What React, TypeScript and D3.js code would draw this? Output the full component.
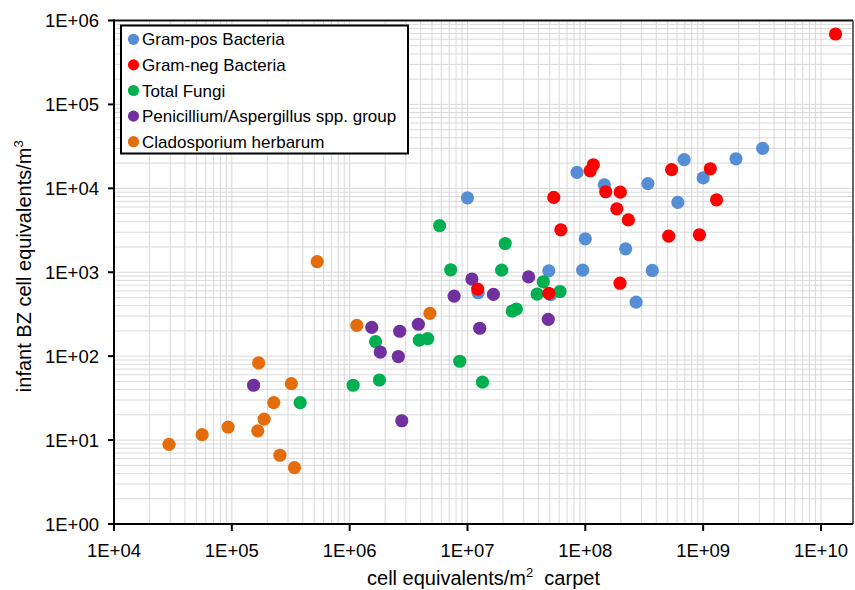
import React from "react";
import * as d3 from "d3";

// Carpet loading (cells/m² carpet) vs infant breathing-zone concentration (cells/m³)
const gramPosX = [1.0e7, 8.5e7, 1.45e8, 3.4e8, 6.9e8, 1.0e9, 1.9e9, 3.2e9, 6.1e8, 1.0e8, 2.2e8, 4.9e7, 9.5e7, 3.7e8, 2.7e8, 1.23e7, 5.1e7];
const gramPosY = [7.7e3, 1.55e4, 1.1e4, 1.14e4, 2.2e4, 1.33e4, 2.25e4, 3.0e4, 6.8e3, 2.5e3, 1.9e3, 1.04e3, 1.06e3, 1.05e3, 440, 570, 540];

const gramNegX = [1.33e10, 1.17e8, 1.1e8, 5.4e7, 1.49e8, 1.98e8, 1.85e8, 2.32e8, 6.2e7, 5.4e8, 1.15e9, 1.3e9, 5.1e8, 9.3e8, 1.97e8, 1.22e7, 4.9e7];
const gramNegY = [6.9e5, 1.91e4, 1.62e4, 7.8e3, 9.1e3, 9.0e3, 5.7e3, 4.2e3, 3.2e3, 1.67e4, 1.71e4, 7.3e3, 2.7e3, 2.8e3, 740, 630, 560];

const fungiX = [5.8e6, 2.09e7, 7.2e6, 1.95e7, 4.4e7, 3.9e7, 6.1e7, 2.4e7, 2.6e7, 1.66e6, 3.9e6, 4.6e6, 8.6e6, 1.79e6, 1.07e6, 1.34e7, 3.8e5];
const fungiY = [3.6e3, 2.2e3, 1.07e3, 1.06e3, 770, 550, 590, 345, 365, 149, 155, 162, 87, 52, 45, 49, 28];

const peniX = [1.09e7, 7.7e6, 1.66e7, 3.3e7, 4.85e7, 1.27e7, 1.54e6, 2.66e6, 3.83e6, 1.82e6, 2.59e6, 1.53e5, 2.77e6];
const peniY = [830, 520, 545, 880, 275, 215, 220, 198, 240, 112, 99, 45, 17];

const cladoX = [5.3e5, 1.69e5, 3.2e5, 2.27e5, 1.88e5, 9.3e4, 5.6e4, 1.66e5, 2.93e4, 2.56e5, 3.4e5, 1.15e6, 4.8e6];
const cladoY = [1340, 83, 47, 28, 17.8, 14.3, 11.6, 12.9, 8.9, 6.6, 4.7, 233, 324];

const seriesNames = [
  "Gram-pos Bacteria",
  "Gram-neg Bacteria",
  "Total Fungi",
  "Penicillium/Aspergillus spp. group",
  "Cladosporium herbarum",
];
const seriesColors = ["#558ED5", "#FF0000", "#00B050", "#7030A0", "#E46C0A"];
const seriesX = [gramPosX, gramNegX, fungiX, peniX, cladoX];
const seriesY = [gramPosY, gramNegY, fungiY, peniY, cladoY];
// paint order: red bacteria end up on top
const paintOrder = [0, 2, 3, 4, 1];

const xTickLabels = ["1E+04", "1E+05", "1E+06", "1E+07", "1E+08", "1E+09", "1E+10"];
const yTickLabels = ["1E+00", "1E+01", "1E+02", "1E+03", "1E+04", "1E+05", "1E+06"];

const FONT = "'Liberation Sans', Arial, Helvetica, sans-serif";

export default function App() {
  const W = 855;
  const H = 590;
  const left = 114;
  const right = 853;
  const top = 20.5;
  const bottom = 524;

  const x = d3.scaleLog().domain([1e4, 1.87e10]).range([left, right]);
  const y = d3.scaleLog().domain([1, 1e6]).range([bottom, top]);

  const xMajor = xTickLabels.map((_, i) => Math.pow(10, 4 + i));
  const yMajor = yTickLabels.map((_, i) => Math.pow(10, i));

  const xGrid: number[] = [];
  for (let e = 4; e <= 10; e++) {
    for (let k = 1; k <= 9; k++) {
      const v = k * Math.pow(10, e);
      if (v <= x.domain()[1]) xGrid.push(v);
    }
  }
  const yGrid: number[] = [];
  for (let e = 0; e <= 5; e++) {
    for (let k = 1; k <= 9; k++) yGrid.push(k * Math.pow(10, e));
  }
  yGrid.push(1e6);

  const legendRowY = (i: number) => 39.3 + i * 25.6;

  return (
    <svg
      width={W}
      height={H}
      viewBox={`0 0 ${W} ${H}`}
      style={{ position: "absolute", left: 0, top: 0, background: "#fff" }}
      fontFamily={FONT}
    >
      <rect x={0} y={0} width={W} height={H} fill="#fff" />

      {/* gridlines */}
      <g stroke="#d9d9d9" strokeWidth={1}>
        {xGrid.map((v, i) => (
          <line key={"gx" + i} x1={x(v)} x2={x(v)} y1={top} y2={bottom} />
        ))}
        {yGrid.map((v, i) => (
          <line key={"gy" + i} x1={left} x2={right} y1={y(v)} y2={y(v)} />
        ))}
      </g>

      {/* plot frame */}
      <line x1={left} x2={right} y1={top} y2={top} stroke="#111" strokeWidth={2} />
      <line x1={right} x2={right} y1={top} y2={bottom} stroke="#333" strokeWidth={1.5} />

      {/* markers */}
      {paintOrder.map((s) => (
        <g key={"s" + s} fill={seriesColors[s]}>
          {seriesX[s].map((xv, i) => (
            <circle key={i} cx={x(xv)} cy={y(seriesY[s][i])} r={6.6} />
          ))}
        </g>
      ))}

      {/* axes */}
      <g stroke="#000" strokeWidth={2}>
        <line x1={left} x2={left} y1={top - 1} y2={bottom + 6} />
        <line x1={left - 6} x2={right} y1={bottom} y2={bottom} />
        {yMajor.map((v, i) => (
          <line key={"yt" + i} x1={left - 6} x2={left} y1={y(v)} y2={y(v)} />
        ))}
        {xMajor.map((v, i) => (
          <line key={"xt" + i} x1={x(v)} x2={x(v)} y1={bottom} y2={bottom + 7} />
        ))}
      </g>

      {/* tick labels */}
      <g fontSize={18.5} fill="#000">
        {yMajor.map((v, i) => (
          <text key={"yl" + i} x={99} y={y(v) + 6.8} textAnchor="end">
            {yTickLabels[i]}
          </text>
        ))}
        {xMajor.map((v, i) => (
          <text key={"xl" + i} x={x(v)} y={557} textAnchor="middle">
            {xTickLabels[i]}
          </text>
        ))}
      </g>

      {/* axis titles */}
      <text x={(left + right) / 2} y={585} textAnchor="middle" fontSize={20} fill="#000">
        cell equivalents/m
        <tspan fontSize={13} dy={-8}>2</tspan>
        <tspan dy={8}>{"\u00A0 carpet"}</tspan>
      </text>
      <text
        transform={`translate(31, ${(top + bottom) / 2 - 6}) rotate(-90)`}
        textAnchor="middle"
        fontSize={20}
        fill="#000"
      >
        infant BZ cell equivalents/m
        <tspan fontSize={13} dy={-8}>3</tspan>
      </text>

      {/* legend */}
      <rect x={121} y={25.5} width={287} height={128} fill="#fff" stroke="#000" strokeWidth={2} />
      {seriesNames.map((name, i) => (
        <g key={"lg" + i}>
          <circle cx={133.5} cy={legendRowY(i)} r={5.6} fill={seriesColors[i]} />
          <text x={142} y={legendRowY(i) + 6} fontSize={17} fill="#000">
            {name}
          </text>
        </g>
      ))}
    </svg>
  );
}
